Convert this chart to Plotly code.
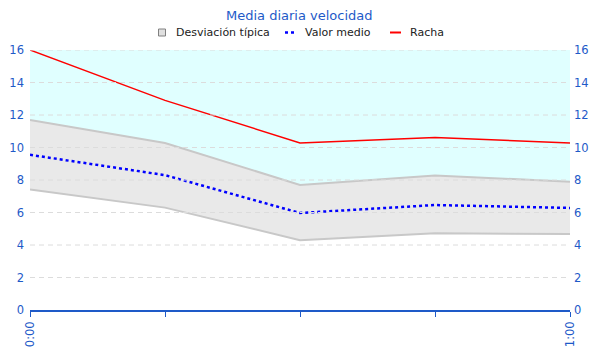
import plotly.graph_objects as go

minutes = [0, 15, 30, 45, 60]
tick_labels = ["0:00", "", "", "", "1:00"]
racha = [16.0, 12.9, 10.28, 10.62, 10.28]
valor_medio = [9.55, 8.3, 5.97, 6.46, 6.28]
desv_sup = [11.7, 10.28, 7.7, 8.28, 7.9]
desv_inf = [7.42, 6.3, 4.3, 4.72, 4.68]
y_max = 16
y_ticks = list(range(0, 17, 2))
top = [y_max] * len(minutes)

blue_txt = "#1E5AC8"
# page body has an 8px margin; plot area on the page spans x 30..570, y 50..310
OFF = 8
W, H = 600, 360
PX0, PX1, PY0, PY1 = 30, 570, 50, 310
PW, PH = PX1 - PX0, PY1 - PY0


def px(x):
    return (x - PX0) / PW


def py(y):
    return (PY1 - y) / PH


fig = go.Figure()
fig.add_trace(go.Scatter(x=minutes, y=desv_inf, mode="lines",
                         line=dict(color="#C8C8C8", width=2), showlegend=False, hoverinfo="skip"))
fig.add_trace(go.Scatter(x=minutes, y=desv_sup, mode="lines", fill="tonexty",
                         fillcolor="#E9E9E9",
                         line=dict(color="#C8C8C8", width=2), showlegend=False))
fig.add_trace(go.Scatter(x=minutes, y=top, mode="lines", fill="tonexty",
                         fillcolor="#E0FFFF", line=dict(width=0), showlegend=False, hoverinfo="skip"))
fig.add_trace(go.Scatter(x=minutes, y=valor_medio, mode="lines", name="Valor medio",
                         line=dict(color="#0000FF", width=2.5, dash="dot"), showlegend=False))
fig.add_trace(go.Scatter(x=minutes, y=racha, mode="lines", name="Racha",
                         line=dict(color="#FF0000", width=1.5), showlegend=False))
fig.add_trace(go.Scatter(x=[None], y=[None], yaxis="y2", showlegend=False))

shapes = []
for t in y_ticks[1:]:
    shapes.append(dict(type="line", xref="paper", x0=0, x1=1, yref="y", y0=t, y1=t,
                       line=dict(color="#DCDCDC", width=1, dash="5px,4px"), layer="above"))

# legend symbols
ly = py(32.5)
shapes.append(dict(type="rect", xref="paper", yref="paper", x0=px(158.5), x1=px(165.5),
                   y0=py(36), y1=py(29), fillcolor="#E0E0E0", line=dict(color="#808080", width=1)))
shapes.append(dict(type="line", xref="paper", yref="paper", x0=px(285), x1=px(297),
                   y0=ly, y1=ly, line=dict(color="#0000FF", width=2.5, dash="dot")))
shapes.append(dict(type="line", xref="paper", yref="paper", x0=px(390), x1=px(401),
                   y0=ly, y1=ly, line=dict(color="#FF0000", width=2)))

leg_font = dict(family="DejaVu Sans", size=11, color="#222222")
annotations = [
    dict(text="Media diaria velocidad", xref="paper", yref="paper", x=px(299), y=py(15),
         xanchor="center", yanchor="middle", showarrow=False, borderpad=0,
         font=dict(family="DejaVu Sans", size=13, color=blue_txt)),
    dict(text="Desviación típica", xref="paper", yref="paper", x=px(174), y=ly,
         xanchor="left", yanchor="middle", showarrow=False, font=leg_font),
    dict(text="Valor medio", xref="paper", yref="paper", x=px(303), y=ly,
         xanchor="left", yanchor="middle", showarrow=False, font=leg_font),
    dict(text="Racha", xref="paper", yref="paper", x=px(408), y=ly,
         xanchor="left", yanchor="middle", showarrow=False, font=leg_font),
]

axis_font = dict(family="DejaVu Sans", size=11.5, color=blue_txt)
fig.update_layout(
    width=W, height=H,
    margin=dict(l=PX0 - OFF, r=W - (PX1 - OFF), t=PY0 - OFF, b=H - (PY1 - OFF), autoexpand=False),
    paper_bgcolor="white", plot_bgcolor="white",
    font=dict(family="DejaVu Sans", size=11, color="#222222"),
    showlegend=False,
    shapes=shapes, annotations=annotations,
    xaxis=dict(range=[0, 60], tickvals=minutes, ticktext=tick_labels, tickangle=-90,
               showgrid=False, zeroline=False, showline=True, linecolor=blue_txt, linewidth=1.5,
               ticks="outside", ticklen=5, tickcolor=blue_txt, tickfont=axis_font, automargin=False),
    yaxis=dict(range=[0, y_max], tickvals=y_ticks, showgrid=False, ticklabelstandoff=5,
               zeroline=False, showline=False, tickfont=axis_font, ticks="", automargin=False),
    yaxis2=dict(range=[0, y_max], tickvals=y_ticks, overlaying="y", side="right", showgrid=False,
                ticklabelstandoff=3,
                zeroline=False, tickfont=axis_font, automargin=False),
)
fig.write_html("out.html")
